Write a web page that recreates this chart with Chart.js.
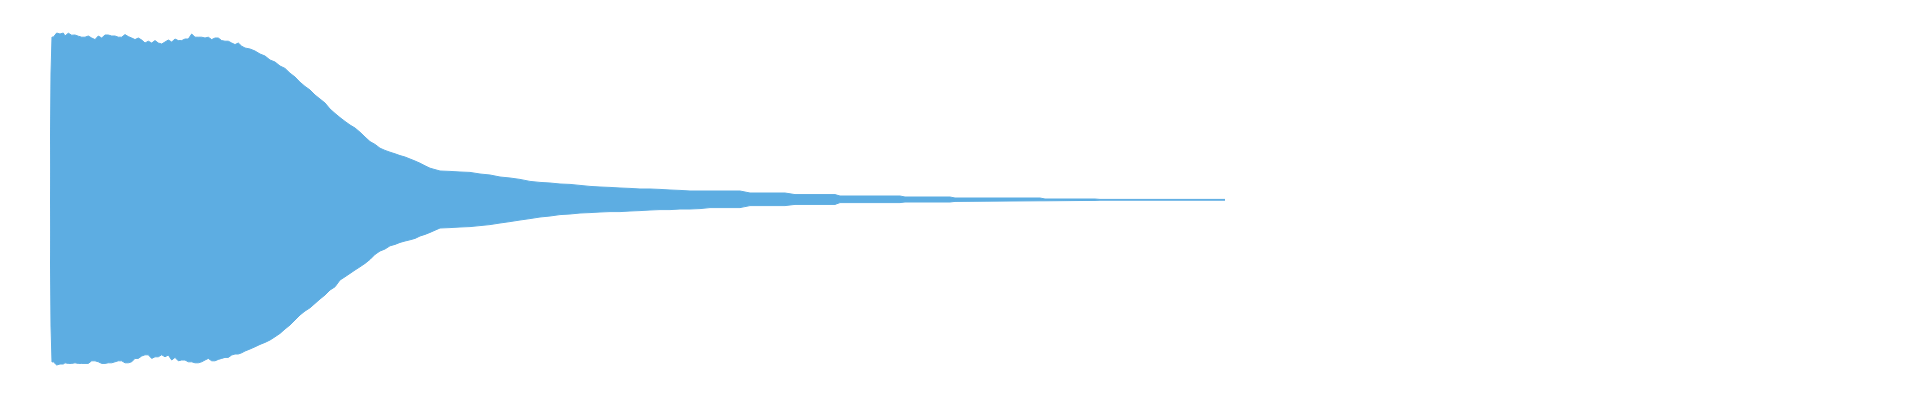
<!DOCTYPE html>
<html>
<head>
<meta charset="utf-8">
<title>Waveform</title>
<script src="https://cdn.jsdelivr.net/npm/chart.js@4.4.1/dist/chart.umd.min.js"></script>
<style>
  html, body { margin: 0; padding: 0; background: #ffffff; }
  #wrap { width: 1920px; height: 400px; position: relative; }
</style>
</head>
<body>
<div id="wrap"><canvas id="c"></canvas></div>
<script>
// Time (seconds) of each envelope sample
const times = [
  0.000, 0.010, 0.020, 0.033, 0.067, 0.100, 0.133, 0.150, 0.183, 0.217,
  0.250, 0.283, 0.317, 0.350, 0.383, 0.417, 0.450, 0.483, 0.517, 0.550,
  0.583, 0.617, 0.650, 0.683, 0.717, 0.750, 0.783, 0.817, 0.850, 0.883,
  0.917, 0.950, 0.983, 1.017, 1.050, 1.083, 1.117, 1.150, 1.183, 1.217,
  1.250, 1.283, 1.317, 1.350, 1.383, 1.417, 1.450, 1.483, 1.517, 1.550,
  1.583, 1.617, 1.650, 1.683, 1.717, 1.750, 1.783, 1.817, 1.850, 1.883,
  1.917, 1.950, 2.000, 2.050, 2.100, 2.150, 2.200, 2.250, 2.300, 2.350,
  2.400, 2.450, 2.500, 2.550, 2.600, 2.650, 2.700, 2.750, 2.800, 2.850,
  2.900, 2.950, 3.000, 3.050, 3.100, 3.150, 3.200, 3.250, 3.300, 3.350,
  3.400, 3.450, 3.500, 3.550, 3.600, 3.650, 3.700, 3.750, 3.800, 3.900,
  4.000, 4.100, 4.200, 4.300, 4.400, 4.500, 4.600, 4.700, 4.800, 4.900,
  5.000, 5.100, 5.200, 5.300, 5.400, 5.500, 5.600, 5.700, 5.800, 5.900,
  6.000, 6.100, 6.200, 6.300, 6.400, 6.500, 6.600, 6.900, 7.000, 7.350,
  7.450, 7.850, 7.900, 8.500, 8.550, 9.000, 9.050, 9.900, 9.950, 10.450,
  10.500, 11.750
];

// Positive peak (upper envelope) per sample
const peakMax = [
  0.003, 0.635, 0.815, 0.814, 0.835, 0.830, 0.835, 0.820, 0.834, 0.824,
  0.825, 0.819, 0.814, 0.814, 0.820, 0.810, 0.802, 0.820, 0.810, 0.825,
  0.825, 0.820, 0.820, 0.814, 0.814, 0.827, 0.817, 0.810, 0.802, 0.810,
  0.800, 0.785, 0.794, 0.785, 0.797, 0.785, 0.780, 0.790, 0.800, 0.790,
  0.805, 0.797, 0.797, 0.805, 0.805, 0.830, 0.814, 0.814, 0.814, 0.810,
  0.814, 0.802, 0.810, 0.810, 0.797, 0.794, 0.794, 0.785, 0.777, 0.785,
  0.769, 0.760, 0.755, 0.745, 0.730, 0.720, 0.700, 0.690, 0.670, 0.658,
  0.634, 0.615, 0.589, 0.568, 0.550, 0.525, 0.505, 0.485, 0.455, 0.433,
  0.412, 0.393, 0.375, 0.360, 0.339, 0.315, 0.292, 0.278, 0.259, 0.248,
  0.239, 0.231, 0.222, 0.215, 0.205, 0.195, 0.184, 0.171, 0.159, 0.145,
  0.143, 0.140, 0.138, 0.130, 0.125, 0.115, 0.110, 0.103, 0.093, 0.088,
  0.085, 0.080, 0.078, 0.073, 0.068, 0.065, 0.063, 0.060, 0.058, 0.055,
  0.055, 0.053, 0.050, 0.048, 0.045, 0.045, 0.045, 0.045, 0.035, 0.035,
  0.027, 0.027, 0.020, 0.020, 0.015, 0.015, 0.010, 0.010, 0.005, 0.005,
  0.003, 0.003
];

// Negative peak (lower envelope) per sample
const peakMin = [
  -0.003, -0.630, -0.810, -0.809, -0.825, -0.820, -0.820, -0.814, -0.817, -0.817,
  -0.814, -0.817, -0.817, -0.817, -0.817, -0.804, -0.804, -0.809, -0.817, -0.817,
  -0.814, -0.814, -0.809, -0.804, -0.804, -0.814, -0.814, -0.809, -0.792, -0.792,
  -0.780, -0.774, -0.774, -0.792, -0.784, -0.784, -0.774, -0.784, -0.775, -0.800,
  -0.787, -0.804, -0.800, -0.800, -0.809, -0.809, -0.814, -0.814, -0.809, -0.800,
  -0.792, -0.804, -0.804, -0.797, -0.792, -0.787, -0.787, -0.775, -0.770, -0.770,
  -0.764, -0.755, -0.745, -0.734, -0.722, -0.712, -0.700, -0.684, -0.667, -0.645,
  -0.625, -0.600, -0.575, -0.555, -0.539, -0.517, -0.495, -0.475, -0.450, -0.434,
  -0.400, -0.384, -0.367, -0.350, -0.334, -0.317, -0.297, -0.272, -0.255, -0.245,
  -0.229, -0.222, -0.212, -0.205, -0.199, -0.192, -0.180, -0.172, -0.162, -0.140,
  -0.138, -0.135, -0.133, -0.128, -0.123, -0.115, -0.108, -0.100, -0.093, -0.085,
  -0.080, -0.073, -0.070, -0.065, -0.063, -0.060, -0.058, -0.058, -0.055, -0.053,
  -0.050, -0.048, -0.048, -0.045, -0.045, -0.043, -0.038, -0.038, -0.028, -0.028,
  -0.022, -0.022, -0.013, -0.013, -0.010, -0.010, -0.007, -0.004, -0.004, -0.002,
  -0.001, -0.001
];

// Axis extent (seconds) and amplitude range
const timeAxisMax = 18.7;
const ampMin = -1;
const ampMax = 1;

const waveColor = '#5dade2';

const upper = times.map((t, i) => ({ x: t, y: peakMax[i] }));
const lower = times.map((t, i) => ({ x: t, y: peakMin[i] }));

new Chart(document.getElementById('c'), {
  type: 'line',
  data: {
    datasets: [
      {
        label: 'max',
        data: upper,
        borderColor: waveColor,
        backgroundColor: waveColor,
        borderWidth: 1,
        pointRadius: 0,
        tension: 0,
        fill: '+1'
      },
      {
        label: 'min',
        data: lower,
        borderColor: waveColor,
        backgroundColor: waveColor,
        borderWidth: 1,
        pointRadius: 0,
        tension: 0,
        fill: false
      }
    ]
  },
  options: {
    responsive: true,
    maintainAspectRatio: false,
    animation: false,
    devicePixelRatio: 1,
    layout: { padding: { left: 50, right: 0, top: 0, bottom: 0 } },
    scales: {
      x: { type: 'linear', min: 0, max: timeAxisMax, display: false },
      y: { type: 'linear', min: ampMin, max: ampMax, display: false }
    },
    plugins: {
      legend: { display: false },
      tooltip: { enabled: false },
      title: { display: false }
    }
  }
});
</script>
</body>
</html>
